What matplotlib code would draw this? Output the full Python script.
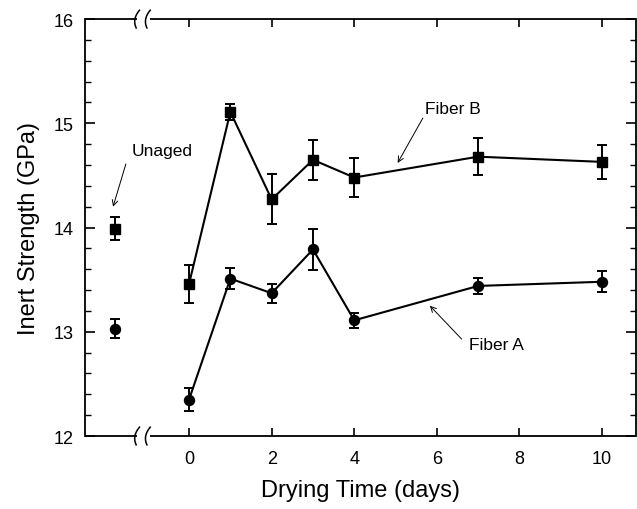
import numpy as np
import matplotlib
matplotlib.use("Agg")
import matplotlib.pyplot as plt

plt.rcParams['font.family'] = ['Liberation Sans', 'DejaVu Sans']

# Data
days = [0, 1, 2, 3, 4, 7, 10]
fiberA = [12.35, 13.51, 13.37, 13.79, 13.11, 13.44, 13.48]
fiberA_err = [0.11, 0.10, 0.09, 0.20, 0.07, 0.08, 0.10]
fiberB = [13.46, 15.11, 14.27, 14.65, 14.48, 14.68, 14.63]
fiberB_err = [0.18, 0.08, 0.24, 0.19, 0.19, 0.18, 0.16]
unaged_x = -1.8
unagedA, unagedA_err = 13.03, 0.09
unagedB, unagedB_err = 13.99, 0.11

xticks = [0, 2, 4, 6, 8, 10]
yticks = [12, 13, 14, 15, 16]

fig = plt.figure(figsize=(6.37, 5.10), dpi=100)
ax = fig.add_axes([0.1334, 0.1431, 0.8656, 0.8175])
ax.set_xlim(-2.52, 10.83)
ax.set_ylim(12, 16)

ekw = dict(color='black', ecolor='black', elinewidth=1.4, capsize=3.6, capthick=1.4)
ax.errorbar(days, fiberB, yerr=fiberB_err, marker='s', ms=6.5, lw=1.5, **ekw)
ax.errorbar(days, fiberA, yerr=fiberA_err, marker='o', ms=7.2, lw=1.5, **ekw)
ax.errorbar([unaged_x], [unagedB], yerr=[unagedB_err], marker='s', ms=6.5, ls='none', **ekw)
ax.errorbar([unaged_x], [unagedA], yerr=[unagedA_err], marker='o', ms=7.2, ls='none', **ekw)

# Axes styling
ax.set_xticks(xticks)
ax.set_yticks(yticks)
ax.set_yticks(np.arange(12, 16.01, 0.2), minor=True)
ax.tick_params(axis='both', which='both', direction='in', top=True, right=True, labelsize=13)
ax.tick_params(axis='y', which='major', length=7, width=1.2, pad=8)
ax.tick_params(axis='y', which='minor', length=4, width=1.0)
ax.tick_params(axis='x', which='major', length=6, width=1.2, pad=10)
for s in ax.spines.values():
    s.set_linewidth(1.3)
ax.spines['top'].set_visible(False)
ax.spines['bottom'].set_visible(False)

# Broken top/bottom spines
gap_l, gap_r = -1.27, -0.95
for yv in (12, 16):
    ax.plot([-2.52, gap_l], [yv, yv], color='black', lw=1.3, clip_on=False, solid_capstyle='butt')
    ax.plot([gap_r, 10.83], [yv, yv], color='black', lw=1.3, clip_on=False, solid_capstyle='butt')
# break marks
t = np.linspace(-1, 1, 30)
for yv in (12, 16):
    for xc in (gap_l + 0.03, gap_r - 0.03):
        xs = xc - 0.07 * (1 - t**2) + 0.04 * t
        ys = yv + 0.085 * t
        ax.plot(xs, ys, color='black', lw=1.1, clip_on=False)

ax.set_xlabel('Drying Time (days)', fontsize=17, labelpad=9)
ax.set_ylabel('Inert Strength (GPa)', fontsize=17, labelpad=10)

akw = dict(arrowstyle='->', lw=0.7, color='black', shrinkA=0, shrinkB=0)
ax.annotate('', xy=(-1.84, 14.20), xytext=(-1.53, 14.61), arrowprops=akw)
ax.text(-0.66, 14.74, 'Unaged', fontsize=12.5, ha='center', va='center')
ax.annotate('', xy=(5.05, 14.62), xytext=(5.66, 15.05), arrowprops=akw)
ax.text(6.38, 15.14, 'Fiber B', fontsize=12.5, ha='center', va='center')
ax.annotate('', xy=(5.83, 13.25), xytext=(6.6, 12.93), arrowprops=akw)
ax.text(7.45, 12.88, 'Fiber A', fontsize=12.5, ha='center', va='center')

fig.savefig('out.png', dpi=100)
